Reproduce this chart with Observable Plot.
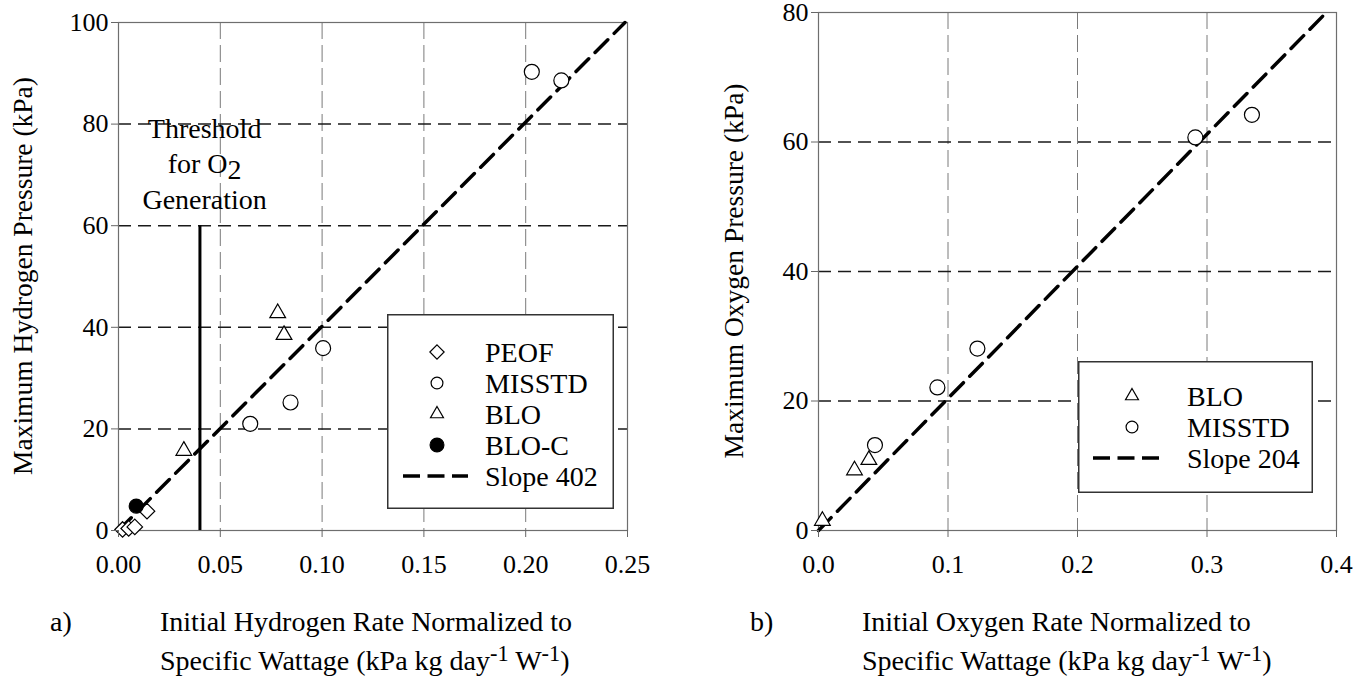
<!DOCTYPE html>
<html><head><meta charset="utf-8">
<script src="https://cdn.jsdelivr.net/npm/d3@7"></script>
<script src="https://cdn.jsdelivr.net/npm/@observablehq/plot@0.6"></script>
<style>
body{margin:0;background:#fff;}
#root{position:relative;width:1364px;height:681px;overflow:hidden;font-family:"Liberation Serif","Times New Roman",Times,serif;color:#000;}
.panel{position:absolute;top:0;}
.xl{position:absolute;font-size:28px;line-height:39px;white-space:nowrap;}
.xl sup{font-size:0.8em;vertical-align:0.42em;line-height:0;}
.tag{position:absolute;font-size:28px;line-height:39px;}
</style></head><body><div id="root"></div>
<script>
// ---------- Panel a) hydrogen ----------
const aXTicks = [0, 0.05, 0.10, 0.15, 0.20, 0.25];
const aYTicks = [0, 20, 40, 60, 80, 100];
const aSlope = 402;
const peofX = [0.002, 0.005, 0.008, 0.014];
const peofY = [0.2, 0.4, 0.7, 3.8];
const misstdAX = [0.0647, 0.0845, 0.1005, 0.2030, 0.2175];
const misstdAY = [21.0, 25.2, 35.9, 90.3, 88.6];
const bloAX = [0.0321, 0.0782, 0.0813];
const bloAY = [15.7, 42.8, 38.5];
const blocX = [0.0087];
const blocY = [4.8];
const thresholdX = 0.04;
const thresholdTop = 60;
const thresholdText = "Threshold\nfor O2\nGeneration";
const aLegend = ["PEOF", "MISSTD", "BLO", "BLO-C", "Slope 402"];

// ---------- Panel b) oxygen ----------
const bXTicks = [0, 0.1, 0.2, 0.3, 0.4];
const bYTicks = [0, 20, 40, 60, 80];
const bSlope = 204;
const bloBX = [0.003, 0.0278, 0.0389];
const bloBY = [1.5, 9.3, 10.9];
const misstdBX = [0.0436, 0.0918, 0.1227, 0.2910, 0.3347];
const misstdBY = [13.2, 22.1, 28.1, 60.7, 64.2];
const bLegend = ["BLO", "MISSTD", "Slope 204"];

const SERIF = '"Liberation Serif","Times New Roman",Times,serif';
const root = document.getElementById("root");
const pts = (xs, ys) => xs.map((x, i) => ({x, y: ys[i]}));

function panel(cfg) {
  const xt = cfg.xTicks, yt = cfg.yTicks;
  const xMax = xt[xt.length - 1], yMax = yt[yt.length - 1];
  const slopePts = [0, Math.min(xMax, yMax / cfg.slope)].map(x => ({x, y: cfg.slope * x}));
  const marks = [
    Plot.ruleX(xt.slice(1, -1), {stroke: "#7a7a7a", strokeWidth: 1, strokeDasharray: "17,6"}),
    Plot.ruleY(yt.slice(1, -1), {stroke: "#1a1a1a", strokeWidth: 1.5, strokeDasharray: "13,7"}),
    Plot.frame({stroke: "#6e6e6e", strokeWidth: 1.2}),
    ...cfg.extra,
    Plot.line(slopePts, {x: "x", y: "y", stroke: "#000", strokeWidth: 3.5, strokeDasharray: "18,9"}),
    ...cfg.series.map(s => Plot.dot(s.data, {x: "x", y: "y", symbol: s.symbol, r: s.r, stroke: "#000", strokeWidth: 1.2, fill: s.fill})),
    Plot.axisX(xt, {tickSize: 7, tickPadding: 17, tickFormat: cfg.xFmt, stroke: "#666", fill: "#000", fontSize: 26, label: null}),
    Plot.axisY(yt, {tickSize: 7, tickPadding: 3, stroke: "#666", fill: "#000", fontSize: 26, label: null})
  ];
  const svg = Plot.plot({
    width: 682, height: 681,
    marginLeft: cfg.ml, marginRight: cfg.mr, marginTop: cfg.mt, marginBottom: cfg.mb,
    x: {domain: [0, xMax]}, y: {domain: [0, yMax]},
    style: {fontFamily: SERIF, fontSize: "26px", background: "transparent", overflow: "visible", color: "#000"},
    marks
  });
  svg.classList.add("panel");
  svg.style.left = cfg.left + "px";
  // rotated y-axis title, centred on the plot area
  const cy = cfg.mt + (681 - cfg.mt - cfg.mb) / 2;
  d3.select(svg).append("text")
    .attr("transform", `translate(${cfg.yTitleX},${cy}) rotate(-90)`)
    .attr("text-anchor", "middle").attr("dy", "0.35em")
    .attr("font-size", 27.5).attr("font-family", SERIF).attr("fill", "#000")
    .text(cfg.yLabel);
  return svg;
}

const svgA = panel({
  left: 0, ml: 118, mr: 55, mt: 22, mb: 151, yTitleX: 22,
  xTicks: aXTicks, yTicks: aYTicks, slope: aSlope, xFmt: d3.format(".2f"),
  yLabel: "Maximum Hydrogen Pressure (kPa)",
  extra: [
    Plot.ruleX([thresholdX], {y1: 0, y2: thresholdTop, stroke: "#000", strokeWidth: 3}),
    Plot.text([thresholdText], {text: d => d, x: 0.0423, y: 72.5, fontSize: 28, lineHeight: 1.26, fill: "#000", textAnchor: "middle"})
  ],
  series: [
    {data: pts(peofX, peofY), symbol: "diamond2", r: 7, fill: "white"},
    {data: pts(misstdAX, misstdAY), symbol: "circle", r: 7.5, fill: "white"},
    {data: pts(bloAX, bloAY), symbol: "triangle2", r: 7.5, fill: "white"},
    {data: pts(blocX, blocY), symbol: "circle", r: 7, fill: "#000"}
  ]
});
const svgB = panel({
  left: 682, ml: 136, mr: 28, mt: 12, mb: 151, yTitleX: 51,
  xTicks: bXTicks, yTicks: bYTicks, slope: bSlope, xFmt: d3.format(".1f"),
  yLabel: "Maximum Oxygen Pressure (kPa)",
  extra: [],
  series: [
    {data: pts(bloBX, bloBY), symbol: "triangle2", r: 7.5, fill: "white"},
    {data: pts(misstdBX, misstdBY), symbol: "circle", r: 7.5, fill: "white"}
  ]
});
root.append(svgA, svgB);

// subscript in "for O2"
d3.select(svgA).selectAll("tspan").filter(function () { return this.textContent === "for O2"; })
  .each(function () {
    const t = d3.select(this);
    t.text("for O");
    t.append("tspan").attr("baseline-shift", "-20%").text("2");
  });

// ---------- legends ----------
const legendKinds = {
  "PEOF": "diamond", "MISSTD": "circle", "BLO": "triangle", "BLO-C": "dot"
};
function legend(items, box) {
  const svg = d3.create("svg")
    .attr("width", box.w).attr("height", box.h)
    .style("position", "absolute").style("left", box.left + "px").style("top", box.top + "px")
    .style("overflow", "visible").style("font-family", SERIF);
  svg.append("rect").attr("x", 0.75).attr("y", 0.75).attr("width", box.w - 1.5).attr("height", box.h - 1.5)
    .attr("fill", "white").attr("stroke", "#333").attr("stroke-width", 1.5);
  items.forEach((label, i) => {
    const y = box.firstY + i * 31;
    const kind = legendKinds[label] || "dash";
    if (kind === "dash") {
      svg.append("line").attr("x1", box.dash[0]).attr("x2", box.dash[1]).attr("y1", y).attr("y2", y)
        .attr("stroke", "#000").attr("stroke-width", 3.5).attr("stroke-dasharray", "17,7.5");
    } else {
      const type = {diamond: d3.symbolDiamond2, circle: d3.symbolCircle, triangle: d3.symbolTriangle2, dot: d3.symbolCircle}[kind];
      const size = {diamond: 130, circle: 110, triangle: 120, dot: 150}[kind];
      svg.append("path").attr("d", d3.symbol(type, size)()).attr("transform", `translate(${box.symX},${y})`)
        .attr("fill", kind === "dot" ? "#000" : "white").attr("stroke", "#000").attr("stroke-width", 1.2);
    }
    svg.append("text").attr("x", box.textX).attr("y", y).attr("dy", "0.35em")
      .attr("font-size", 28).attr("fill", "#000").text(label);
  });
  root.append(svg.node());
}
legend(aLegend, {left: 387, top: 314, w: 227, h: 195, symX: 50, textX: 98, dash: [16, 81], firstY: 38});
legend(bLegend, {left: 1078, top: 361, w: 235, h: 132, symX: 54, textX: 109, dash: [15, 82], firstY: 35});

// ---------- x-axis titles and panel tags ----------
function html(cls, left, top, content) {
  const d = document.createElement("div");
  d.className = cls; d.style.left = left + "px"; d.style.top = top + "px";
  d.innerHTML = content; root.append(d);
}
html("tag", 50, 602, "a)");
html("tag", 750, 602, "b)");
html("xl", 160, 602, "Initial Hydrogen Rate Normalized to<br>Specific Wattage (kPa kg day<sup>-1</sup> W<sup>-1</sup>)");
html("xl", 862, 602, "Initial Oxygen Rate Normalized to<br>Specific Wattage (kPa kg day<sup>-1</sup> W<sup>-1</sup>)");
</script></body></html>
